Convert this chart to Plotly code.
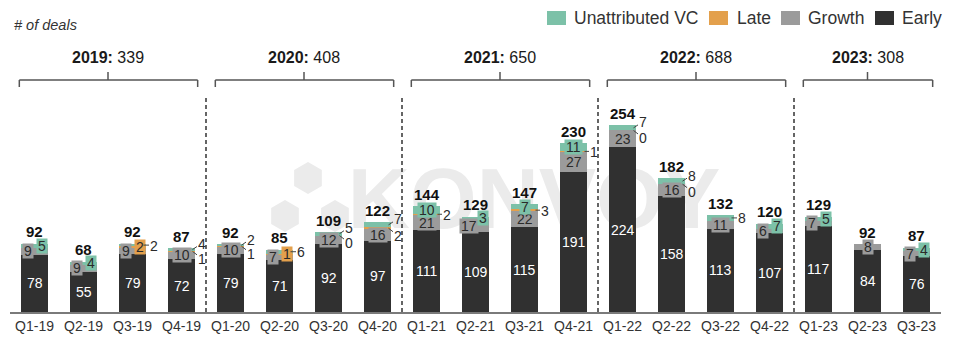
import math
import plotly.graph_objects as go

# ---------------- data ----------------
quarters = ["Q1-19", "Q2-19", "Q3-19", "Q4-19",
            "Q1-20", "Q2-20", "Q3-20", "Q4-20",
            "Q1-21", "Q2-21", "Q3-21", "Q4-21",
            "Q1-22", "Q2-22", "Q3-22", "Q4-22",
            "Q1-23", "Q2-23", "Q3-23"]
early = [78, 55, 79, 72, 79, 71, 92, 97, 111, 109, 115, 191, 224, 158, 113, 107, 117, 84, 76]
growth = [9, 9, 9, 10, 10, 7, 12, 16, 21, 17, 22, 27, 23, 16, 11, 6, 7, 8, 7]
late = [0, 0, 2, 1, 1, 1, 0, 2, 2, 0, 3, 1, 0, 0, 0, 0, 0, 0, 0]
unattributed = [5, 4, 2, 4, 2, 6, 5, 7, 10, 3, 7, 11, 7, 8, 8, 7, 5, 0, 4]
years = ["2019", "2020", "2021", "2022", "2023"]
# how the small segment labels are arranged on each bar
label_mode = ["side", "side", "side", "fork", "fork", "side", "fork", "fork",
              "stack", "side", "stack", "stack", "fork", "fork", "dash", "side",
              "side", "center", "side"]

# ---------------- style ----------------
C_EARLY = "#303030"
C_GROWTH = "#9b9b9b"
C_LATE = "#e3a04c"
C_UNATTR = "#7cc1a8"
TXT = "#2b2b2b"
FONT = "Liberation Sans, Arial, sans-serif"

W, H = 960, 340
ML, MR, MT, MB = 10, 19, 0, 28
PW, PH = W - ML - MR, H - MT - MB
PX_PER_UNIT = 0.735
YMAX = PH / PX_PER_UNIT


def px_x(p):
    return (p - ML) / PW


def px_y(p):
    return (MT + PH - p) / PH


n = len(quarters)
totals = [early[i] + growth[i] + late[i] + unattributed[i] for i in range(n)]
year_of = ["20" + q.split("-")[1] for q in quarters]

fig = go.Figure()
for name, vals, col in [("Early", early, C_EARLY), ("Growth", growth, C_GROWTH),
                        ("Late", late, C_LATE), ("Unattributed VC", unattributed, C_UNATTR)]:
    fig.add_trace(go.Bar(x=quarters, y=vals, name=name, marker_color=col,
                         marker_line_width=0, width=0.55, showlegend=False))

ann = []
shapes = []


def lab(i, y, text, color=TXT, bg=None, xshift=0, yshift=0, size=14, bold=False, yanchor="middle"):
    d = dict(x=quarters[i], y=y, xref="x", yref="y", text=("<b>%s</b>" % text) if bold else text,
             showarrow=False, font=dict(family=FONT, size=size, color=color),
             xshift=xshift, yshift=yshift, yanchor=yanchor, borderpad=0)
    if bg:
        d["bgcolor"] = bg
        d["height"] = 12
        d["borderpad"] = 1
    ann.append(d)


def leader(i, y, text, ax, ay):
    ann.append(dict(x=quarters[i], y=y, xref="x", yref="y", text=text, showarrow=True,
                    arrowhead=0, arrowwidth=1, arrowcolor="#444", ax=ax, ay=ay,
                    xshift=11, standoff=0, font=dict(family=FONT, size=14, color=TXT),
                    borderpad=0, height=13))


for i in range(n):
    e, g, l, u = early[i], growth[i], late[i], unattributed[i]
    mode = label_mode[i]
    lab(i, totals[i], str(totals[i]), color="#111", size=15, bold=True, yanchor="bottom",
        yshift=3 if mode == "side" else 2)
    lab(i, e / 2, str(e), color="white")
    yg = e + g / 2
    yl = e + g + l / 2
    yu = e + g + l + u / 2
    lab(i, yg, str(g), bg=C_GROWTH, xshift=-7 if mode == "side" else 0)
    if mode == "side":
        if l > 0:
            lab(i, yl, str(l), bg=C_LATE, xshift=7)
            if u > 0:
                leader(i, yu, str(u), 10, 0)
        else:
            lab(i, yu, str(u), bg=C_UNATTR, xshift=7)
    elif mode == "fork":
        leader(i, yu, str(u), 9, -6)
        leader(i, yl, str(l), 9, 7)
    elif mode == "stack":
        lab(i, yu, str(u), bg=C_UNATTR)
        if l > 0:
            leader(i, yl, str(l), 9, 0)
    elif mode == "dash":
        leader(i, yu, str(u), 10, 0)

# year headers, brackets, separators
y_head = px_y(57)
y_br = px_y(80)
y_br_end = px_y(87)
y_br_mid = px_y(72)
for k, yr in enumerate(years):
    idx = [i for i in range(n) if year_of[i] == yr]
    first, last = idx[0], idx[-1]
    mid = (first + last) / 2
    ysum = sum(totals[i] for i in idx)
    ann.append(dict(x=mid, y=y_head, xref="x", yref="paper", showarrow=False,
                    xanchor="center", yanchor="middle",
                    text="<b>%s:</b> %d" % (yr, ysum),
                    font=dict(family=FONT, size=16, color="#1a1a1a")))
    x0, x1 = first - 0.31, last + 0.33
    line = dict(color="#555", width=1.5)
    shapes.append(dict(type="line", xref="x", yref="paper", x0=x0, x1=x1, y0=y_br, y1=y_br, line=line))
    shapes.append(dict(type="line", xref="x", yref="paper", x0=x0, x1=x0, y0=y_br, y1=y_br_end, line=line))
    shapes.append(dict(type="line", xref="x", yref="paper", x0=x1, x1=x1, y0=y_br, y1=y_br_end, line=line))
    shapes.append(dict(type="line", xref="x", yref="paper", x0=mid, x1=mid, y0=y_br, y1=y_br_mid, line=line))
    if k < len(years) - 1:
        shapes.append(dict(type="line", xref="x", yref="paper", x0=last + 0.5, x1=last + 0.5,
                           y0=0, y1=px_y(95), line=dict(color="#333", width=1.5, dash="4px,3px")))

# "# of deals"
ann.append(dict(x=px_x(12), y=px_y(25), xref="paper", yref="paper", xanchor="left", yanchor="middle",
                showarrow=False, text="<i># of deals</i>",
                font=dict(family=FONT, size=14.5, color="#333")))

# legend (drawn manually to match the reference layout)
legend_items = [("Unattributed VC", C_UNATTR, 547, 572), ("Late", C_LATE, 709, 735),
                ("Growth", C_GROWTH, 781, 806), ("Early", C_EARLY, 875, 900)]
for name, col, sx, tx in legend_items:
    shapes.append(dict(type="rect", xref="paper", yref="paper", x0=px_x(sx), x1=px_x(sx + 19),
                       y0=px_y(25), y1=px_y(11), fillcolor=col, line=dict(width=0)))
    ann.append(dict(x=px_x(tx), y=px_y(18), xref="paper", yref="paper", xanchor="left",
                    yanchor="middle", showarrow=False, text=name,
                    font=dict(family=FONT, size=17.5, color="#333")))

# watermark (behind bars)
WM = "#ebebeb"
shapes.append(dict(type="rect", xref="paper", yref="paper", layer="below",
                   x0=px_x(368), x1=px_x(700), y0=px_y(230), y1=px_y(150),
                   line=dict(width=0), fillcolor="rgba(0,0,0,0)",
                   label=dict(text="KONVOY", textposition="middle center",
                              font=dict(family=FONT, size=86, color=WM, weight="bold"))))
for cx, cy, r in [(308, 178, 16), (285, 216, 16), (335, 216, 16)]:
    pts = []
    for k in range(6):
        a = math.radians(90 + 60 * k)
        pts.append((px_x(cx + r * math.cos(a)), px_y(cy - r * math.sin(a))))
    path = "M" + " L".join("%.5f,%.5f" % p for p in pts) + " Z"
    shapes.append(dict(type="path", xref="paper", yref="paper", layer="below", path=path,
                       fillcolor=WM, line=dict(width=0)))

fig.update_layout(
    barmode="stack", width=W, height=H,
    margin=dict(l=ML, r=MR, t=MT, b=MB, pad=0),
    paper_bgcolor="white", plot_bgcolor="rgba(0,0,0,0)",
    showlegend=False, annotations=ann, shapes=shapes,
    font=dict(family=FONT, color=TXT),
    xaxis=dict(range=[-0.5, n - 0.5], showgrid=False, zeroline=False, showline=True,
               linecolor="#7a7a7a", linewidth=2, ticks="", tickfont=dict(size=14, color="#333"),
               fixedrange=True),
    yaxis=dict(range=[0, YMAX], visible=False, fixedrange=True),
)

fig.write_html("out.html")
